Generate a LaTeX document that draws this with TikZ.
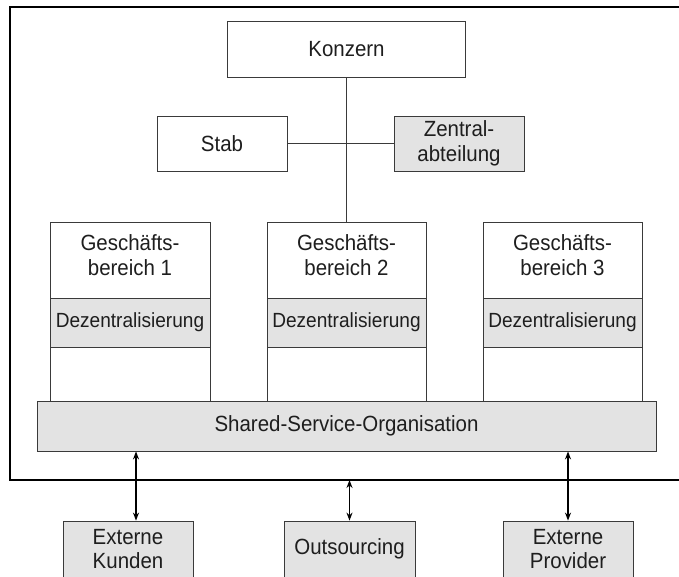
\documentclass[tikz,border=0pt]{standalone}
\usepackage{fontspec}
\setmainfont{Liberation Sans}[FakeStretch=0.93]
\usetikzlibrary{positioning,arrows.meta}
\definecolor{boxgrau}{HTML}{E3E3E3}
\definecolor{liniengrau}{HTML}{3A3A3A}
\definecolor{textgrau}{HTML}{1E1E1E}
\tikzset{every picture/.style={line width=0.75pt}}

\begin{document}
\begin{tikzpicture}[>={Stealth[length=8pt,width=6pt]},x=1pt,y=-1pt,
	every node/.style={font=\fontsize{22}{24.5}\selectfont,text=textgrau,align=center},
	kasten/.style={draw=liniengrau,line width=0.8pt,inner sep=0pt},
	grau/.style={kasten,fill=boxgrau},
	linie/.style={draw=liniengrau,line width=0.8pt},
	pfeil/.style={<->,line width=1.4pt}]
	\useasboundingbox (0,0) rectangle (679,576);
	\clip (0,0) rectangle (679,576);
	%Rahmen
	\coordinate (ro) at (690,7);
	\coordinate (lo) at (10,7);
	\coordinate (lu) at (10,480);
	\coordinate (ru) at (690,480);
	\draw[line width=1.4pt] (ro) -- (lo) -- (lu) -- (ru);
	%Konzern
	\node[kasten,minimum width=238,minimum height=56] (konzern) at (346.5,49) {Konzern};
	%Stab und Zentralabteilung
	\node[kasten,minimum width=130,minimum height=55] (stab) at (222,143.5) {Stab};
	\node[grau,minimum width=130,minimum height=55] (zentral) at (459,143.5) {Zentral-\\abteilung};
	%Geschaeftsbereiche
	\foreach \i/\x/\w in {1/130/160,2/346.5/159,3/562.5/159}{
		\node[kasten,minimum width=\w,minimum height=179] (gb\i) at (\x,311.5) {};
		\node (gbt\i) at (\x,255) {Geschäfts-\\bereich \i};
		\node[grau,minimum width=\w,minimum height=49,font=\fontsize{20.5}{24}\selectfont] (dz\i) at (\x,322.5) {Dezentralisierung};
	}
	%Linien
	\draw[linie] (konzern.south) -- (gb2.north);
	\draw[linie] (stab.east) -- (zentral.west);
	%Shared Service
	\node[grau,minimum width=619,minimum height=50] (sso) at (346.5,426) {Shared-Service-Organisation};
	%Extern
	\node[grau,minimum width=130,minimum height=56] (kunden) at (128,549) {Externe\\Kunden};
	\node[grau,minimum width=131,minimum height=56] (outs) at (349.5,549) {Outsourcing};
	\node[grau,minimum width=130,minimum height=56] (provider) at (568,549) {Externe\\Provider};
	%Pfeile
	\draw[pfeil] ([xshift=8pt]kunden.north) -- ([xshift=8pt]kunden.north |- sso.south);
	\draw[pfeil] (outs.north) -- (outs.north |- lu);
	\draw[pfeil] (provider.north) -- (provider.north |- sso.south);
\end{tikzpicture}
\end{document}
